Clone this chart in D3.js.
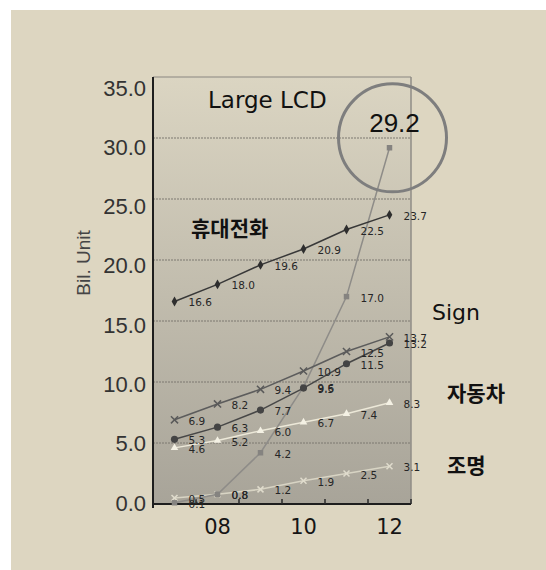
<!DOCTYPE html>
<html>
<head>
<meta charset="utf-8">
<script src="https://cdn.jsdelivr.net/npm/d3@7"></script>
<style>
  html, body { margin: 0; padding: 0; background: #ffffff; }
  svg { display: block; }
</style>
</head>
<body>
<svg id="chart" width="546" height="570"></svg>
<script>
// Years on the category axis
const years = ["07", "08", "09", "10", "11", "12"];
const yearLabels = ["08", "10", "12"];
const valueTicks = [0, 5, 10, 15, 20, 25, 30, 35];

// Shipments per segment, billions of units
const phone    = [16.6, 18.0, 19.6, 20.9, 22.5, 23.7];
const largeLcd = [0.1, 0.8, 4.2, 9.6, 17.0, 29.2];
const sign     = [6.9, 8.2, 9.4, 10.9, 12.5, 13.7];
const dotted   = [5.3, 6.3, 7.7, 9.5, 11.5, 13.2];
const vehicle  = [4.6, 5.2, 6.0, 6.7, 7.4, 8.3];
const lighting = [0.5, 0.8, 1.2, 1.9, 2.5, 3.1];

const svg = d3.select("#chart");
const W = 546, H = 570;
const plot = { left: 153, right: 411, top: 77, bottom: 504 };

// page background
svg.append("rect").attr("x", 11).attr("y", 10).attr("width", W - 11).attr("height", H - 10)
  .attr("fill", "#ddd6c1");

const defs = svg.append("defs");
const grad = defs.append("linearGradient").attr("id", "plotBg")
  .attr("x1", 0).attr("y1", 0).attr("x2", 0).attr("y2", 1);
grad.append("stop").attr("offset", "0%").attr("stop-color", "#dbd5c2");
grad.append("stop").attr("offset", "100%").attr("stop-color", "#a8a499");

const x = d3.scaleBand().domain(years).range([plot.left, plot.right]);
const cx = d => x(d) + x.bandwidth() / 2;
const y = d3.scaleLinear().domain([0, 35]).range([plot.bottom, plot.top]);
// tick labels sit on a slightly tighter scale than the grid
const yText = d3.scaleLinear().domain([0, 35]).range([503, 88]);

svg.append("rect")
  .attr("x", plot.left).attr("y", plot.top)
  .attr("width", plot.right - plot.left).attr("height", plot.bottom - plot.top)
  .attr("fill", "url(#plotBg)");

// horizontal grid
svg.append("g").selectAll("line").data(valueTicks.filter(v => v > 0 && v < 35)).join("line")
  .attr("x1", plot.left).attr("x2", plot.right)
  .attr("y1", d => y(d)).attr("y2", d => y(d))
  .attr("stroke", "#7c7870").attr("stroke-width", 1).attr("stroke-dasharray", "2,1");

// plot frame top and right
svg.append("line").attr("x1", plot.left).attr("x2", plot.right)
  .attr("y1", y(35)).attr("y2", y(35)).attr("stroke", "#8a8780").attr("stroke-width", 1);
svg.append("line").attr("x1", plot.right).attr("x2", plot.right)
  .attr("y1", y(35)).attr("y2", plot.bottom).attr("stroke", "#8f8c86").attr("stroke-width", 1.5);

// value tick labels
const yAxis = svg.append("g").attr("transform", "translate(146,0)")
  .call(d3.axisLeft(yText).tickValues(valueTicks).tickFormat(d3.format(".1f")).tickSize(0).tickPadding(0));
yAxis.select(".domain").remove();
yAxis.selectAll("text").attr("font-family", "Liberation Sans").attr("font-size", 22)
  .attr("fill", "#333333");

// category labels
const xAxis = svg.append("g").attr("transform", `translate(0,${plot.bottom})`)
  .call(d3.axisBottom(x).tickValues(yearLabels).tickSize(0).tickPadding(15));
xAxis.select(".domain").remove();
xAxis.selectAll("text").attr("font-family", "DejaVu Sans").attr("font-size", 21)
  .attr("fill", "#151515").attr("dy", "0.71em");

// axis lines and inner ticks between categories
svg.append("line").attr("x1", plot.left).attr("x2", plot.left)
  .attr("y1", plot.top).attr("y2", plot.bottom + 4).attr("stroke", "#1e1e1e").attr("stroke-width", 2);
svg.append("line").attr("x1", plot.left - 1).attr("x2", plot.right)
  .attr("y1", plot.bottom).attr("y2", plot.bottom).attr("stroke", "#1e1e1e").attr("stroke-width", 2);
svg.append("g").selectAll("line").data(years).join("line")
  .attr("x1", d => x(d) + x.bandwidth()).attr("x2", d => x(d) + x.bandwidth())
  .attr("y1", plot.bottom).attr("y2", plot.bottom - 5)
  .attr("stroke", "#2a2a2a").attr("stroke-width", 1.5);

// axis title
svg.append("text").attr("transform", "translate(90,263) rotate(-90)")
  .attr("text-anchor", "middle").attr("font-family", "Liberation Sans").attr("font-size", 19)
  .attr("fill", "#454545").text("Bil. Unit");

const series = [
  { values: lighting, line: "#d8d4c4", mark: "#e0dccd", symbol: d3.symbolX, size: 25, stroke: true },
  { values: vehicle,  line: "#ece8d8", mark: "#f4f1e4", symbol: d3.symbolTriangle, size: 25, stroke: false },
  { values: largeLcd, line: "#8e8c88", mark: "#858380", symbol: d3.symbolSquare, size: 30, stroke: false, skipLast: true },
  { values: dotted,   line: "#474747", mark: "#444444", symbol: d3.symbolCircle, size: 40, stroke: false },
  { values: sign,     line: "#5c5c5c", mark: "#5a5a5a", symbol: d3.symbolX, size: 35, stroke: true },
  { values: phone,    line: "#383838", mark: "#2e2e2e", symbol: d3.symbolDiamond, size: 28, stroke: false }
];

const line = d3.line().x((d, i) => cx(years[i])).y(d => y(d));

series.forEach(s => {
  const g = svg.append("g");
  g.append("path").datum(s.values).attr("d", line)
    .attr("fill", "none").attr("stroke", s.line).attr("stroke-width", 1.5);
  const sym = d3.symbol().type(s.symbol).size(s.size);
  g.selectAll("path.m").data(s.values).join("path").attr("class", "m")
    .attr("transform", (d, i) => `translate(${cx(years[i])},${y(d)})`)
    .attr("d", sym)
    .attr("fill", s.stroke ? "none" : s.mark)
    .attr("stroke", s.stroke ? s.mark : "none")
    .attr("stroke-width", s.stroke ? 1.5 : 0);
});

// value labels beside each point
series.forEach(s => {
  svg.append("g").selectAll("text")
    .data(s.values.map((v, i) => ({ v, i })).filter(d => !(s.skipLast && d.i === years.length - 1)))
    .join("text")
    .attr("x", d => cx(years[d.i]) + 14)
    .attr("y", d => y(d.v) + 5)
    .attr("font-family", "DejaVu Sans").attr("font-size", 10.5).attr("fill", "#262626")
    .text(d => d3.format(".1f")(d.v));
});

// highlighted final Large LCD value
const last = largeLcd.length - 1;
svg.append("circle").attr("cx", cx(years[last]) + 3).attr("cy", y(largeLcd[last]) - 10).attr("r", 54)
  .attr("fill", "none").attr("stroke", "#7e7e7e").attr("stroke-width", 3);
svg.append("text").attr("x", cx(years[last]) + 5).attr("y", y(largeLcd[last]) - 16)
  .attr("text-anchor", "middle").attr("font-family", "Liberation Sans").attr("font-size", 26)
  .attr("fill", "#111").text(d3.format(".1f")(largeLcd[last]));

// segment names
const names = [
  { t: "Large LCD", x: 208, y: 108, f: "DejaVu Sans", s: 23, w: 400 },
  { t: "휴대전화", x: 191, y: 236, f: "Noto Sans CJK KR", s: 21, w: 700 },
  { t: "Sign", x: 432, y: 320, f: "DejaVu Sans", s: 22, w: 400 },
  { t: "자동차", x: 447, y: 401, f: "Noto Sans CJK KR", s: 21, w: 700 },
  { t: "조명", x: 447, y: 473, f: "Noto Sans CJK KR", s: 21, w: 700 }
];
svg.append("g").selectAll("text").data(names).join("text")
  .attr("x", d => d.x).attr("y", d => d.y)
  .attr("font-family", d => d.f).attr("font-size", d => d.s).attr("font-weight", d => d.w)
  .attr("fill", "#111").text(d => d.t);
</script>
</body>
</html>
